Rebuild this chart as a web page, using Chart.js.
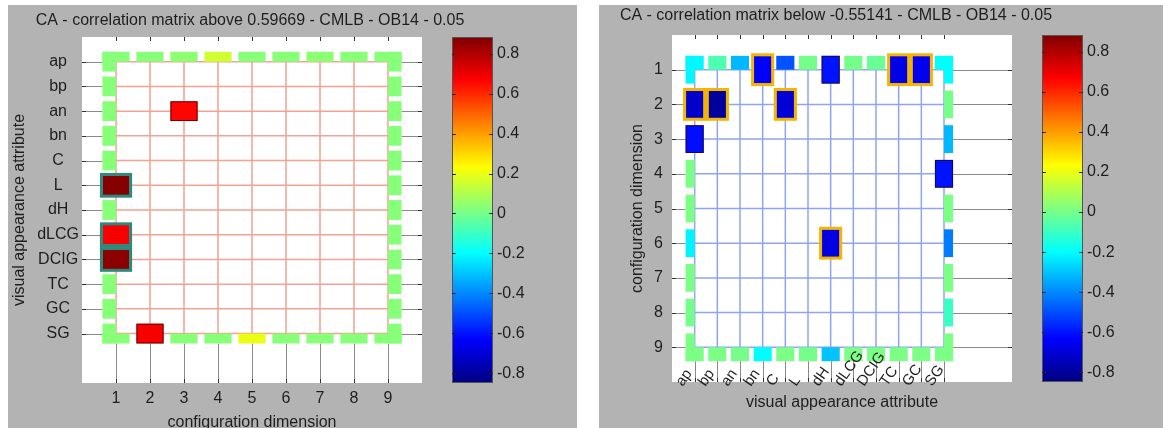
<!DOCTYPE html>
<html>
<head>
<meta charset="utf-8">
<script src="https://cdn.jsdelivr.net/npm/chart.js@4.4.0/dist/chart.umd.min.js"></script>
<style>
  body { margin: 0; background: #fff; width: 1163px; height: 428px; overflow: hidden; position: relative; }
  .panel { position: absolute; top: 5px; height: 423px; background: #b3b3b3; }
  #pL { left: 8px; width: 569px; }
  #pR { left: 599px; width: 564px; }
  canvas { position: absolute; left: 0; top: 0; }
</style>
</head>
<body>
<div class="panel" id="pL"><canvas id="cL" width="569" height="423"></canvas></div>
<div class="panel" id="pR"><canvas id="cR" width="564" height="423"></canvas></div>
<script>
// colour scale (jet) limits and colorbar ticks
const cbMin = -0.848, cbMax = 0.883;
const cbTicks = [-0.8, -0.6, -0.4, -0.2, 0, 0.2, 0.4, 0.6, 0.8];

const attrs = ['ap', 'bp', 'an', 'bn', 'C', 'L', 'dH', 'dLCG', 'DCIG', 'TC', 'GC', 'SG'];
const dims = ['1', '2', '3', '4', '5', '6', '7', '8', '9'];
const _ = null;

// left: rows = attributes, columns = configuration dimensions
const thrAbove = 0.59669;
const corrAbove = [
  [0.03, 0.03, 0.04, 0.15, 0.03, 0.03, 0.04, 0.03, 0.03], // ap
  [0.03, _, _, _, _, _, _, _, 0.03],                       // bp
  [0.03, _, 0.66, _, _, _, _, _, 0.03],                    // an
  [0.03, _, _, _, _, _, _, _, 0.03],                       // bn
  [0.03, _, _, _, _, _, _, _, 0.03],                       // C
  [0.87, _, _, _, _, _, _, _, 0.03],                       // L
  [0.03, _, _, _, _, _, _, _, 0.03],                       // dH
  [0.68, _, _, _, _, _, _, _, 0.03],                       // dLCG
  [0.86, _, _, _, _, _, _, _, 0.03],                       // DCIG
  [0.03, _, _, _, _, _, _, _, 0.03],                       // TC
  [0.03, _, _, _, _, _, _, _, 0.03],                       // GC
  [0.03, 0.68, 0.03, 0.03, 0.2, 0.03, 0.03, 0.03, 0.03]    // SG
];
const sigAbove = [[5, 0], [7, 0], [8, 0]];

// right: rows = configuration dimensions, columns = attributes
const thrBelow = -0.55141;
const corrBelow = [
  [-0.21, -0.07, -0.32, -0.64, -0.49, 0.0, -0.6, 0.0, -0.02, -0.67, -0.66, -0.2], // 1
  [-0.72, -0.8, _, _, -0.7, _, _, _, _, _, _, 0.0],                              // 2
  [-0.61, _, _, _, _, _, _, _, _, _, _, -0.32],                                  // 3
  [0.01, _, _, _, _, _, _, _, _, _, _, -0.6],                                    // 4
  [0.01, _, _, _, _, _, _, _, _, _, _, 0.01],                                    // 5
  [-0.22, _, _, _, _, _, -0.68, _, _, _, _, -0.42],                              // 6
  [0.01, _, _, _, _, _, _, _, _, _, _, 0.01],                                    // 7
  [0.0, _, _, _, _, _, _, _, _, _, _, -0.1],                                     // 8
  [0.01, 0.01, 0.0, -0.2, 0.01, 0.0, -0.3, 0.01, 0.01, 0.01, 0.01, 0.01]        // 9
];
const sigBelow = [[0, 3], [0, 9], [0, 10], [1, 0], [1, 1], [1, 4], [5, 6]];

Chart.defaults.font.family = '"Liberation Sans", Arial, sans-serif';
Chart.defaults.color = '#1e1e1e';

function clamp(v) { return Math.max(0, Math.min(1, v)); }
function jet(v) {
  const t = clamp((v - cbMin) / (cbMax - cbMin));
  const r = clamp(Math.min(4 * t - 1.5, -4 * t + 4.5));
  const g = clamp(Math.min(4 * t - 0.5, -4 * t + 3.5));
  const b = clamp(Math.min(4 * t + 0.5, -4 * t + 2.5));
  return 'rgb(' + Math.round(r * 255) + ',' + Math.round(g * 255) + ',' + Math.round(b * 255) + ')';
}

function toCells(matrix, sig) {
  const cells = [];
  matrix.forEach((row, i) => row.forEach((v, j) => {
    if (v === null) return;
    cells.push({ x: j + 1, y: i + 1, v: v, sig: sig.some(s => s[0] === i && s[1] === j) });
  }));
  return cells;
}

const matrixPlugin = {
  id: 'matrix',
  beforeDatasetsDraw(chart, args, o) {
    const { ctx, chartArea: a, scales: { x, y } } = chart;
    const nR = o.rows.length, nC = o.cols.length;
    const px = v => x.getPixelForValue(v), py = v => y.getPixelForValue(v);
    ctx.save();
    ctx.fillStyle = '#fff';
    ctx.fillRect(a.left, a.top, a.width, a.height);

    // grey grid outside the matrix frame
    ctx.strokeStyle = '#8a8a8a';
    ctx.lineWidth = 1;
    ctx.beginPath();
    for (let c = 1; c <= nC; c++) {
      const X = Math.round(px(c)) + 0.5;
      ctx.moveTo(X, py(nR + 0.4)); ctx.lineTo(X, a.bottom);
    }
    for (let r = 1; r <= nR; r++) {
      const Y = Math.round(py(r)) + 0.5;
      ctx.moveTo(a.left, Y); ctx.lineTo(px(0.6), Y);
      ctx.moveTo(px(nC + 0.4), Y); ctx.lineTo(a.right, Y);
    }
    ctx.stroke();

    // coloured grid inside
    ctx.strokeStyle = o.gridColor;
    ctx.lineWidth = 1.5;
    ctx.beginPath();
    for (let c = 1; c <= nC; c++) { ctx.moveTo(px(c), py(1)); ctx.lineTo(px(c), py(nR)); }
    for (let r = 1; r <= nR; r++) { ctx.moveTo(px(1), py(r)); ctx.lineTo(px(nC), py(r)); }
    ctx.stroke();

    // little tick marks on the box
    ctx.strokeStyle = '#333';
    ctx.lineWidth = 1;
    ctx.beginPath();
    for (let c = 1; c <= nC; c++) {
      const X = Math.round(px(c)) + 0.5;
      ctx.moveTo(X, a.top); ctx.lineTo(X, a.top + 4);
      ctx.moveTo(X, a.bottom); ctx.lineTo(X, a.bottom - 4);
    }
    for (let r = 1; r <= nR; r++) {
      const Y = Math.round(py(r)) + 0.5;
      ctx.moveTo(a.left, Y); ctx.lineTo(a.left + 4, Y);
      ctx.moveTo(a.right, Y); ctx.lineTo(a.right - 4, Y);
    }
    ctx.stroke();

    // cells
    const box = (c0, c1, r0, r1) => {
      const X0 = px(c0), X1 = px(c1), Y0 = py(r0), Y1 = py(r1);
      return [Math.min(X0, X1), Math.min(Y0, Y1), Math.abs(X1 - X0), Math.abs(Y1 - Y0)];
    };
    const cells = chart.data.datasets[0].data;
    const strong = [];
    cells.forEach(p => {
      const c = p.x, r = p.y;
      ctx.fillStyle = jet(p.v);
      const full = o.dir > 0 ? p.v > o.thr : p.v < o.thr;
      if (full) { strong.push(p); return; }
      if (r === 1) ctx.fillRect(...box(c - 0.4, c + 0.4, r - 0.4, r));
      if (r === nR) ctx.fillRect(...box(c - 0.4, c + 0.4, r, r + 0.4));
      if (c === 1) ctx.fillRect(...box(c - 0.4, c, r - 0.4, r + 0.4));
      if (c === nC) ctx.fillRect(...box(c, c + 0.4, r - 0.4, r + 0.4));
    });
    strong.forEach(p => {
      const b = box(p.x - 0.4, p.x + 0.4, p.y - 0.4, p.y + 0.4);
      ctx.fillStyle = jet(p.v);
      ctx.fillRect(...b);
      if (p.sig) {
        ctx.strokeStyle = o.sigColor;
        ctx.lineWidth = 3;
        ctx.strokeRect(b[0] - 1, b[1] - 1, b[2] + 2, b[3] + 2);
      } else {
        ctx.strokeStyle = 'rgba(40,0,0,0.7)';
        ctx.lineWidth = 1;
        ctx.strokeRect(b[0] + 0.5, b[1] + 0.5, b[2] - 1, b[3] - 1);
      }
    });
    ctx.restore();
  },
  afterDraw(chart, args, o) {
    const { ctx, chartArea: a, scales: { x, cb } } = chart;
    ctx.save();
    // colorbar
    const left = a.right + 30, w = 41;
    const top = cb.getPixelForValue(cbMax), bottom = cb.getPixelForValue(cbMin);
    const grad = ctx.createLinearGradient(0, bottom, 0, top);
    for (let k = 0; k <= 32; k++) {
      const t = k / 32;
      grad.addColorStop(t, jet(cbMin + t * (cbMax - cbMin)));
    }
    ctx.fillStyle = grad;
    ctx.fillRect(left, top, w, bottom - top);
    ctx.strokeStyle = '#555';
    ctx.lineWidth = 1;
    ctx.strokeRect(left + 0.5, top + 0.5, w - 1, bottom - top - 1);
    ctx.strokeStyle = '#222';
    ctx.beginPath();
    cbTicks.forEach(v => {
      const Y = Math.round(cb.getPixelForValue(v)) + 0.5;
      ctx.moveTo(left, Y); ctx.lineTo(left + 4, Y);
      ctx.moveTo(left + w, Y); ctx.lineTo(left + w - 4, Y);
    });
    ctx.stroke();
    // colorbar tick labels
    ctx.fillStyle = '#1e1e1e';
    ctx.font = '16px "Liberation Sans", Arial, sans-serif';
    ctx.textAlign = 'left';
    ctx.textBaseline = 'middle';
    cbTicks.forEach(v => ctx.fillText(String(v), left + w + 4, cb.getPixelForValue(v)));

    // rotated attribute labels
    if (o.rotLabels) {
      ctx.font = '15px "Liberation Sans", Arial, sans-serif';
      ctx.textBaseline = 'alphabetic';
      o.cols.forEach((lab, j) => {
        ctx.save();
        ctx.translate(x.getPixelForValue(j + 1) - 12, a.bottom + 5);
        ctx.rotate(-55 * Math.PI / 180);
        ctx.fillText(lab, 0, 0);
        ctx.restore();
      });
    }
    ctx.restore();
  }
};

function makeChart(id, cfg) {
  return new Chart(document.getElementById(id), {
    type: 'scatter',
    data: { datasets: [{ data: toCells(cfg.matrix, cfg.sig), pointRadius: 0, pointHoverRadius: 0 }] },
    plugins: [matrixPlugin],
    options: {
      responsive: false,
      animation: false,
      layout: { padding: cfg.pad },
      plugins: {
        legend: { display: false },
        tooltip: { enabled: false },
        title: {
          display: true, text: cfg.title, color: '#1e1e1e',
          font: { size: 16, weight: 'normal', lineHeight: 1.25 },
          padding: cfg.titlePad
        },
        matrix: {
          rows: cfg.rows, cols: cfg.cols, thr: cfg.thr, dir: cfg.dir,
          gridColor: cfg.gridColor, sigColor: cfg.sigColor, rotLabels: cfg.rotLabels
        }
      },
      scales: {
        x: {
          type: 'linear', min: 0, max: cfg.xMax, position: 'bottom',
          afterBuildTicks: s => { s.ticks = cfg.cols.map((c, i) => ({ value: i + 1 })); },
          afterFit: s => { s.height = cfg.xH; },
          grid: { display: false, drawTicks: false },
          border: { display: false },
          ticks: { display: !cfg.rotLabels, autoSkip: false, maxRotation: 0, padding: 6, font: { size: 16 }, callback: v => cfg.cols[v - 1] },
          title: { display: true, text: cfg.xTitle, font: { size: 16, lineHeight: 1.25 }, padding: cfg.xTitlePad }
        },
        y: {
          type: 'linear', min: 0, max: cfg.yMax, reverse: true, position: 'left',
          afterBuildTicks: s => { s.ticks = cfg.rows.map((r, i) => ({ value: i + 1 })); },
          afterFit: s => { s.width = cfg.yW; s.paddingTop = 0; s.paddingBottom = 0; },
          grid: { display: false, drawTicks: false },
          border: { display: false },
          ticks: { autoSkip: false, padding: cfg.yTickPad, crossAlign: cfg.yAlign, font: { size: 16 }, callback: v => cfg.rows[v - 1] },
          title: { display: true, text: cfg.yTitle, font: { size: 16, lineHeight: 1.25 }, padding: { top: cfg.yTitleOff, bottom: 0 } }
        },
        cb: {
          type: 'linear', min: cbMin, max: cbMax, position: 'right',
          afterBuildTicks: s => { s.ticks = cbTicks.map(v => ({ value: v })); },
          afterFit: s => { s.width = cfg.cbW; s.paddingTop = 0; s.paddingBottom = 0; },
          grid: { display: false, drawTicks: false },
          border: { display: false },
          ticks: { display: false, padding: 0 }
        }
      }
    }
  });
}

makeChart('cL', {
  title: 'CA - correlation matrix above 0.59669 - CMLB - OB14 - 0.05',
  matrix: corrAbove, sig: sigAbove, rows: attrs, cols: dims,
  thr: thrAbove, dir: 1, gridColor: '#f2a391', sigColor: '#2b8a7c', rotLabels: false,
  xMax: 10, yMax: 14, xH: 45, yW: 74, cbW: 70,
  pad: { left: 0, right: 85, top: 0, bottom: 0 },
  titlePad: { top: 6, bottom: 6 },
  xTitle: 'configuration dimension', xTitlePad: { top: 0, bottom: -5 },
  yTitle: 'visual appearance attribute', yTitleOff: 2, yTickPad: 3, yAlign: 'center'
});

makeChart('cR', {
  title: 'CA - correlation matrix below -0.55141 - CMLB - OB14 - 0.05',
  matrix: corrBelow, sig: sigBelow, rows: dims, cols: attrs,
  thr: thrBelow, dir: -1, gridColor: '#8ea5f4', sigColor: '#f5b400', rotLabels: true,
  xMax: 15, yMax: 10, xH: 31, yW: 73, cbW: 61,
  pad: { left: 0, right: 90, top: 0, bottom: 15 },
  titlePad: { top: 1, bottom: 9 },
  xTitle: 'visual appearance attribute', xTitlePad: { top: 0, bottom: 0 },
  yTitle: 'configuration dimension', yTitleOff: 29, yTickPad: 9, yAlign: 'near'
});
</script>
</body>
</html>
